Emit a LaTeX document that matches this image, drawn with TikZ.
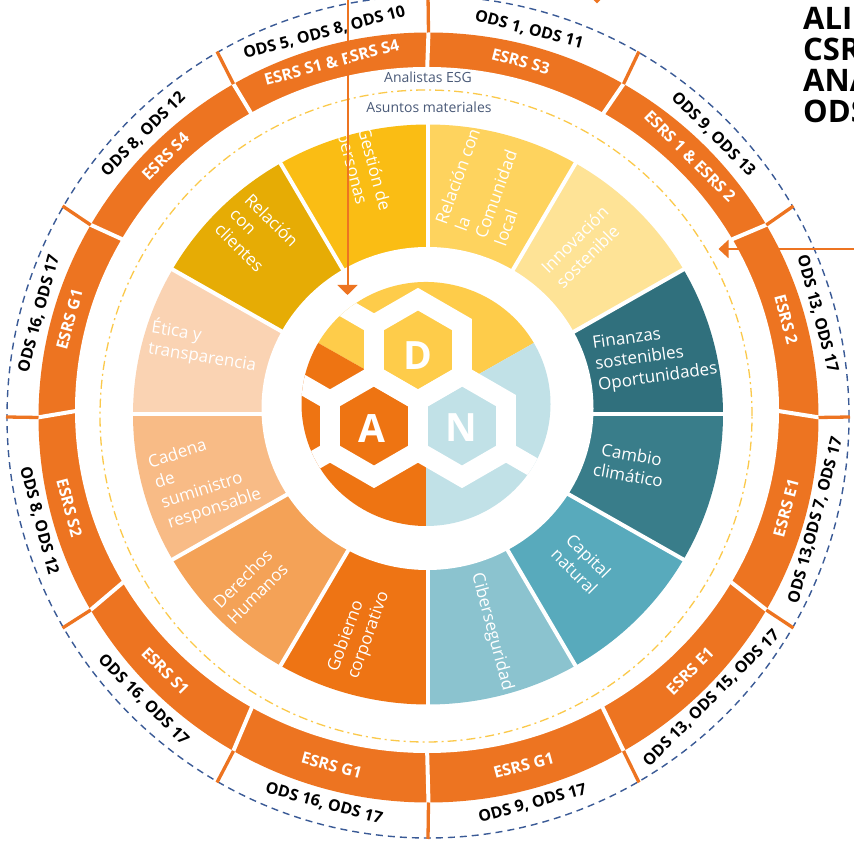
\documentclass[tikz,border=0pt]{standalone}
\usepackage{fontspec}
\setmainfont{Open Sans}
\usetikzlibrary{calc,arrows.meta}
\definecolor{ringor}{HTML}{ED7421}
\definecolor{dashblue}{HTML}{3A5A96}
\definecolor{ddyel}{HTML}{FBC94A}
\definecolor{labgray}{HTML}{4A5A78}
\definecolor{cGes}{HTML}{FABD14}
\definecolor{cCom}{HTML}{FED35E}
\definecolor{cInn}{HTML}{FEE396}
\definecolor{cFin}{HTML}{30707D}
\definecolor{cCam}{HTML}{397D8A}
\definecolor{cCap}{HTML}{58AABC}
\definecolor{cCib}{HTML}{8BC3CF}
\definecolor{cGob}{HTML}{EE7414}
\definecolor{cDer}{HTML}{F4A257}
\definecolor{cCad}{HTML}{F8BB86}
\definecolor{cEti}{HTML}{FAD3B3}
\definecolor{cCli}{HTML}{E6AC05}
\definecolor{dYel}{HTML}{FECC4A}
\definecolor{dOr}{HTML}{EE7412}
\definecolor{dBlu}{HTML}{C1E1E7}

\newcommand{\ringlabel}[5]{%
  \pgfmathsetmacro{\myrot}{ifthenelse(#2>0,#2-90,#2+90)}%
  \pgfmathsetmacro{\myrx}{405-#5}%
  \pgfmathsetmacro{\myry}{402-#5}%
  \node[esrslab, rotate=\myrot] (esrs#1) at ($(Cm)+(#2:371 and 364)$) {#3};
  \node[odslab, rotate=\myrot] (ods#1) at ($(Cq)+({#2}:{\myrx} and {\myry})$) {#4};
}

\begin{document}
\begin{tikzpicture}[x=1pt,y=1pt,
  esrslab/.style={text=white, font=\bfseries\fontsize{16}{18}\selectfont, inner sep=0pt},
  odslab/.style={text=black, font=\bfseries\fontsize{16}{18}\selectfont, inner sep=0pt},
  seglab/.style={text=white, font=\fontsize{17}{21}\selectfont, inner sep=0pt, align=left},
  seglabc/.style={seglab, align=center},
  toplab/.style={text=labgray, font=\fontsize{14}{16}\selectfont, inner sep=0pt},
  hexwall/.style={white, line width=19.6pt, line join=miter},
  hexletter/.style={text=white, font=\bfseries\fontsize{39}{39}\selectfont, inner sep=0pt},
  titlelab/.style={text=black, font=\bfseries\fontsize{31}{31}\selectfont, inner sep=0pt, anchor=base west},
  arrowline/.style={ringor, line width=2pt},
  sepline/.style={white, line width=4pt},
  tickline/.style={ringor, line width=3.3pt},
]
\useasboundingbox (0,0) rectangle (854,846);
\clip (0,0) rectangle (854,846);
\fill[white] (0,0) rectangle (854,846);

% centres
\coordinate (Cd) at (428,429);
\coordinate (Co) at (428.5,428.5);
\coordinate (Ci) at (427,436);
\coordinate (Cdd) at (426,430);
\coordinate (Cs) at (428,431.5);
\coordinate (Cw) at (427.5,437.5);
\coordinate (Cc) at (426,442);
\coordinate (Cm) at (427.75,432.25);
\coordinate (Cq) at (428.25,428.75);

% dashed outer circle
\draw[dashblue, line width=1.4pt, dash pattern=on 7pt off 5pt] (Cd) circle[radius=421];

% orange ring
\fill[ringor] (Co) ellipse[x radius=390, y radius=385];
\fill[white] (Ci) ellipse[x radius=352, y radius=343];
\foreach \a in {0,30,...,330} {
  \draw[sepline] ($(Ci)+(\a:345 and 336)$) -- ($(Co)+(\a:391 and 386)$);
  \draw[tickline] ($(Co)+(\a:390 and 385)$) -- ($(Cd)+(\a:422)$);
}

% dash-dot circle
\draw[ddyel, line width=1.3pt, dash pattern=on 9pt off 4pt on 2pt off 4pt] (Cdd) circle[radius=326];

\node[toplab] (anESG) at (428,768.5) {Analistas ESG};
\node[toplab] (asMat) at (429,738.5) {Asuntos materiales};

% segments
\foreach \a/\col in {90/cGes,60/cCom,30/cInn,0/cFin,-30/cCam,-60/cCap,-90/cCib,-120/cGob,-150/cDer,-180/cCad,-210/cEti,-240/cCli} {
  \fill[\col] (Cs) -- ($(Cs)+(\a:295 and 290)$) arc[start angle=\a, delta angle=30, x radius=295, y radius=290] -- cycle;
}
\foreach \a in {0,30,...,330} {
  \draw[sepline] (Cs) -- ($(Cs)+(\a:300 and 295)$);
}
\fill[white] (Cw) ellipse[x radius=166, y radius=161.5];

% inner disk
\fill[dYel] (Cc) -- ($(Cc)+(30:124.5 and 122)$) arc[start angle=30, delta angle=120, x radius=124.5, y radius=122] -- cycle;
\fill[dOr] (Cc) -- ($(Cc)+(150:124.5 and 122)$) arc[start angle=150, delta angle=120, x radius=124.5, y radius=122] -- cycle;
\fill[dBlu] (Cc) -- ($(Cc)+(270:124.5 and 122)$) arc[start angle=270, delta angle=120, x radius=124.5, y radius=122] -- cycle;

\coordinate (hD) at (418,496);
\coordinate (hA) at (374,420);
\coordinate (hN) at (462,420);
\begin{scope}
  \clip (Cc) ellipse[x radius=124.5, y radius=122];
  \foreach \h in {hD,hA,hN} {
    \draw[hexwall] ($(\h)+(90:50.8)$) -- ($(\h)+(30:50.8)$) -- ($(\h)+(-30:50.8)$) -- ($(\h)+(-90:50.8)$) -- ($(\h)+(-150:50.8)$) -- ($(\h)+(150:50.8)$) -- cycle;
  }
  \draw[hexwall] ($(hD)+(150:50.8)$) -- ++(150:70);
  \draw[hexwall] ($(hA)+(150:50.8)$) -- ++(150:70);
  \draw[hexwall] ($(hA)+(210:50.8)$) -- ++(210:70);
  \draw[hexwall] ($(hN)+(-30:50.8)$) -- ++(-30:70);
\end{scope}
\node[hexletter] (lD) at (418.3,490.5) {D};
\node[hexletter] (lA) at (371.7,417.7) {A};
\node[hexletter] (lN) at (461.7,418.7) {N};

% segment labels
\node[seglab, rotate=-75] (tGes) at (363,674) {Gestión de\\personas};
\node[seglab, rotate=70] (tCom) at (487,659) {Relación con\\la\\Comunidad\\local};
\node[seglab, rotate=45] (tInn) at (582,599) {Innovación\\sostenible};
\node[seglab, rotate=8] (tFin) at (655,489) {Finanzas\\sostenibles\\Oportunidades};
\node[seglabc, rotate=-10] (tCam) at (630,381) {Cambio\\climático};
\node[seglab, rotate=-45] (tCap) at (582,282) {Capital\\natural};
\node[seglab, rotate=-75] (tCib) at (492,214) {Ciberseguridad};
\node[seglab, rotate=70] (tGob) at (359,214) {Gobierno\\corporativo};
\node[seglabc, rotate=45] (tDer) at (250,260) {Derechos\\Humanos};
\node[seglab, rotate=18] (tCad) at (205,367) {Cadena\\de\\suministro\\responsable};
\node[seglab, rotate=-9] (tEti) at (204,500) {Ética y\\transparencia};
\node[seglab, rotate=-45] (tCli) at (257,611) {Relación\\con\\clientes};

% ring labels
\ringlabel{a}{75.5}{ESRS S3}{ODS 1, ODS 11}{2}
\ringlabel{b}{45}{ESRS 1 \& ESRS 2}{ODS 9, ODS 13}{2}
\ringlabel{c}{15}{ESRS 2}{ODS 13, ODS 17}{2}
\ringlabel{d}{-15}{ESRS E1}{ODS 13,ODS 7, ODS 17}{4}
\ringlabel{e}{-45}{ESRS E1}{ODS 13, ODS 15, ODS 17}{4.5}
\ringlabel{f}{-75}{ESRS G1}{ODS 9, ODS 17}{2}
\ringlabel{g}{-105}{ESRS G1}{ODS 16, ODS 17}{2}
\ringlabel{h}{-135}{ESRS S1}{ODS 16, ODS 17}{2}
\ringlabel{i}{-165}{ESRS S2}{ODS 8, ODS 12}{2}
\ringlabel{j}{165}{ESRS G1}{ODS 16, ODS 17}{2}
\ringlabel{k}{135}{ESRS S4}{ODS 8, ODS 12}{2}
\ringlabel{l}{105}{ESRS S1 \& ESRS S4}{ODS 5, ODS 8, ODS 10}{4}

% arrows
\coordinate (arAStart) at (347.5,852);
\coordinate (arAEnd) at (347.5,551);
\draw[arrowline, -{Triangle[width=20pt,length=10pt]}] (arAStart) -- (arAEnd);
\coordinate (arBStart) at (862,597);
\coordinate (arBEnd) at (718.5,597);
\draw[arrowline, -{Triangle[width=18pt,length=10pt]}] (arBStart) -- (arBEnd);
\coordinate (arC) at (597,842.5);
\fill[ringor] (arC) -- ++(-10,10) -- ++(20,0) -- cycle;

% title fragment
\node[titlelab] (ttA) at (803,816) {ALI};
\node[titlelab] (ttB) at (803,785) {CSR};
\node[titlelab] (ttC) at (803,754) {ANA};
\node[titlelab] (ttD) at (803,723) {ODS};
\end{tikzpicture}
\end{document}
